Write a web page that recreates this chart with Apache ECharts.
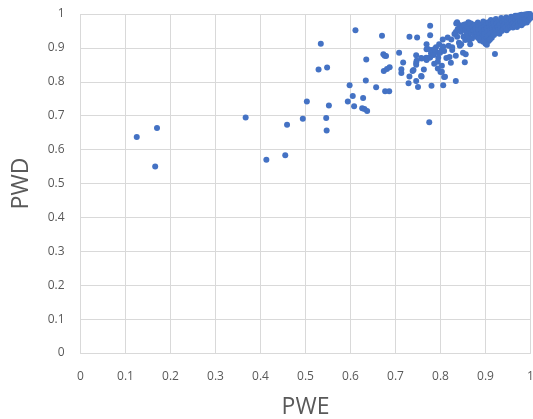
<!DOCTYPE html>
<html>
<head>
<meta charset="utf-8">
<script src="https://cdn.jsdelivr.net/npm/echarts@6/dist/echarts.min.js"></script>
<style>
html,body{margin:0;padding:0;background:#fff;}
#c{width:533px;height:419px;}
</style>
</head>
<body>
<div id="c"></div>
<script>
var xTicks = [0,0.1,0.2,0.3,0.4,0.5,0.6,0.7,0.8,0.9,1];
var yTicks = [0,0.1,0.2,0.3,0.4,0.5,0.6,0.7,0.8,0.9,1];
var xName = 'PWE';
var yName = 'PWD';

var lowPoints = [
[0.125,0.637],[0.17,0.664],[0.166,0.55],[0.367,0.695],[0.413,0.57],[0.455,0.583],[0.459,0.673],
[0.494,0.691],[0.503,0.742],[0.534,0.912],[0.529,0.836],[0.548,0.842],[0.552,0.73],[0.546,0.693],
[0.547,0.656],[0.611,0.952],[0.598,0.79],[0.594,0.742],[0.605,0.758],[0.608,0.728],[0.628,0.752],
[0.626,0.722],[0.631,0.72],[0.637,0.714],[0.635,0.866],[0.634,0.804],[0.67,0.936],[0.673,0.881],
[0.676,0.877],[0.679,0.876],[0.657,0.784],[0.677,0.772],[0.686,0.772],[0.674,0.832],[0.681,0.838],
[0.687,0.843]
];

var midPoints = [
[0.708,0.886],[0.777,0.965],[0.777,0.937],[0.731,0.933],[0.748,0.931],[0.717,0.857],[0.713,0.837],
[0.713,0.826],[0.738,0.832],[0.731,0.816],[0.729,0.796],[0.746,0.802],[0.75,0.785],[0.757,0.817],
[0.763,0.836],[0.746,0.856],[0.746,0.85],[0.746,0.878],[0.757,0.87],[0.769,0.911],[0.769,0.896],
[0.769,0.864],[0.774,0.871],[0.785,0.88],[0.789,0.888],[0.779,0.884],[0.786,0.853],[0.794,0.859],
[0.794,0.839],[0.797,0.886],[0.803,0.895],[0.806,0.904],[0.797,0.911],[0.805,0.925],[0.803,0.847],
[0.8,0.829],[0.808,0.814],[0.806,0.79],[0.78,0.788],[0.775,0.681],[0.813,0.87],[0.82,0.873],
[0.823,0.856],[0.816,0.931],[0.824,0.925],[0.826,0.902],[0.826,0.894],[0.818,0.906],[0.834,0.877],
[0.834,0.802],[0.921,0.882],[0.854,0.858],[0.74,0.835],[0.768,0.871],[0.758,0.869],[0.79,0.902],
[0.772,0.897],[0.779,0.894],[0.787,0.897],[0.783,0.879],[0.777,0.872],[0.758,0.816],[0.81,0.815],
[0.803,0.83],[0.808,0.891],[0.799,0.886],[0.795,0.871],[0.747,0.862]
];

var clusterPoints = [
[0.837,0.976],[0.843,0.967],[0.84,0.955],[0.834,0.947],[0.831,0.941],[0.837,0.933],[0.841,0.915],
[0.846,0.911],[0.843,0.906],[0.85,0.886],[0.856,0.881],[0.851,0.933],[0.855,0.923],[0.86,0.926],
[0.864,0.923],[0.866,0.911],[0.852,0.955],[0.856,0.970],[0.862,0.976],[0.868,0.972],
[0.835,0.972],[0.842,0.965],[0.838,0.955],[0.845,0.948],[0.848,0.958],[0.852,0.968],[0.855,0.952],
[0.858,0.944],[0.86,0.962],[0.862,0.935],[0.865,0.955],[0.866,0.972],[0.868,0.945],[0.87,0.928],
[0.871,0.962],[0.873,0.951],[0.875,0.938],[0.876,0.968],[0.878,0.957],[0.88,0.945],[0.881,0.932],
[0.883,0.975],[0.884,0.962],[0.885,0.952],[0.887,0.94],[0.888,0.922],[0.89,0.968],[0.891,0.958],
[0.892,0.947],[0.893,0.935],[0.895,0.978],[0.896,0.962],[0.897,0.952],[0.898,0.942],[0.899,0.925],
[0.9,0.912],[0.902,0.968],[0.903,0.958],[0.904,0.948],[0.905,0.936],[0.906,0.976],[0.907,0.92],
[0.909,0.962],[0.91,0.952],[0.911,0.942],[0.912,0.982],[0.913,0.97],[0.914,0.93],[0.915,0.958],
[0.917,0.948],[0.918,0.975],[0.919,0.938],[0.92,0.965],[0.922,0.955],[0.923,0.985],[0.924,0.945],
[0.925,0.972],[0.927,0.962],[0.928,0.952],[0.93,0.978],[0.931,0.942],[0.932,0.968],[0.934,0.958],
[0.935,0.988],[0.936,0.95],[0.937,0.975],[0.939,0.965],[0.94,0.955],[0.942,0.982],[0.943,0.97],
[0.944,0.96],[0.946,0.99],[0.947,0.952],[0.948,0.977],[0.95,0.967],[0.951,0.958],[0.953,0.985],
[0.954,0.973],[0.955,0.963],[0.957,0.992],[0.958,0.98],[0.959,0.968],[0.961,0.96],[0.962,0.988],
[0.963,0.975],[0.965,0.966],[0.966,0.995],[0.967,0.982],[0.969,0.972],[0.97,0.962],[0.971,0.99],
[0.973,0.978],[0.974,0.968],[0.976,0.996],[0.977,0.985],[0.978,0.975],[0.98,0.967],[0.981,0.992],
[0.982,0.982],[0.984,0.972],[0.985,0.998],[0.986,0.988],[0.988,0.978],[0.989,0.995],[0.99,0.985],
[0.992,0.975],[0.993,0.998],[0.994,0.99],[0.996,0.982],[0.997,0.996],[0.998,0.99],[0.999,1.0],
[1.0,0.995],[1.0,0.988],[0.995,1.0],[0.99,0.999],[0.98,0.998],[0.97,0.995],[0.903,0.909],
[0.895,0.918],[0.91,0.925],[0.885,0.928]
];

var allPoints = lowPoints.concat(midPoints, clusterPoints);

var chart = echarts.init(document.getElementById('c'), null, {renderer:'canvas'});
var txt = '#595959';
var grid = '#d9d9d9';
function fmt(v){ return String(+v.toFixed(1)); }
chart.setOption({
  animation:false,
  backgroundColor:'#fff',
  grid:{left:80.5,right:2.5,top:14,bottom:66,containLabel:false,outerBoundsMode:'none'},
  xAxis:{
    type:'value', min:xTicks[0], max:xTicks[xTicks.length-1], interval:0.1,
    name:xName, nameLocation:'middle', nameGap:43,
    nameTextStyle:{color:txt,fontSize:23,fontFamily:'Open Sans'},
    axisLine:{show:true,lineStyle:{color:grid}}, axisTick:{show:false},
    axisLabel:{color:txt,fontSize:12,fontFamily:'Open Sans',margin:18,formatter:fmt,showMaxLabel:true,showMinLabel:true},
    splitLine:{show:true,lineStyle:{color:grid,width:1}}
  },
  yAxis:{
    type:'value', min:yTicks[0], max:yTicks[yTicks.length-1], interval:0.1,
    name:yName, nameLocation:'middle', nameGap:48,
    nameTextStyle:{color:txt,fontSize:23,fontFamily:'Open Sans'},
    axisLine:{show:false}, axisTick:{show:false},
    axisLabel:{color:txt,fontSize:12,fontFamily:'Open Sans',margin:16,formatter:fmt},
    splitLine:{show:true,lineStyle:{color:grid,width:1}}
  },
  series:[{
    type:'scatter', data:allPoints, symbol:'circle', symbolSize:6,
    itemStyle:{color:'#4472C4',opacity:1}
  }]
});
</script>
</body>
</html>
